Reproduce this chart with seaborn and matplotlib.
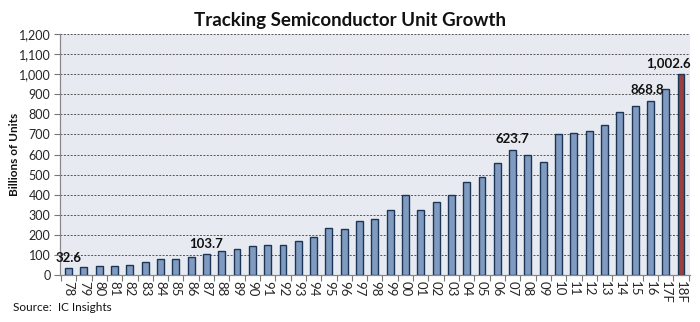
import matplotlib
matplotlib.use("Agg")
import matplotlib.pyplot as plt
import seaborn as sns
from matplotlib.ticker import FuncFormatter, MultipleLocator, FixedLocator

years = ["78", "79", "80", "81", "82", "83", "84", "85", "86", "87", "88", "89",
         "90", "91", "92", "93", "94", "95", "96", "97", "98", "99", "00", "01",
         "02", "03", "04", "05", "06", "07", "08", "09", "10", "11", "12", "13",
         "14", "15", "16", "17F", "18F"]
units = [32.6, 38, 45, 45, 52, 63, 80, 78, 92, 103.7, 121, 131,
         142, 148, 148, 167, 187, 236, 230, 271, 277, 322, 400, 322,
         362, 400, 464, 489, 559, 623.7, 597, 564, 700, 709, 715, 747,
         811, 841, 868.8, 928, 1002.6]
labelled = {"78": "32.6", "87": "103.7", "07": "623.7", "16": "868.8", "18F": "1,002.6"}
label_shift = {"78": 0.0, "87": 0.0, "07": 0.0, "16": -0.2, "18F": -0.85}

blue = "#7699CB"
red = "#A8322F"
colors = [red if y == "18F" else blue for y in years]

sns.set_theme(style="white")
plt.rcParams["font.family"] = ["Lato", "DejaVu Sans"]

fig = plt.figure(figsize=(7.0, 3.22), dpi=100)
ax = fig.add_axes([0.086, 0.146, 0.9, 0.748])
ax.set_facecolor("#E7EBF1")

sns.barplot(x=years, y=units, hue=years, palette=colors, legend=False,
            width=0.45, edgecolor="#1B3556", linewidth=1.0, ax=ax, zorder=3)

ax.set_ylim(0, 1200)
ax.set_xlim(-0.55, 40.6)
ax.yaxis.set_major_locator(MultipleLocator(100))
ax.yaxis.set_major_formatter(FuncFormatter(lambda v, p: f"{int(v):,}"))
ax.grid(axis="y", color="#555555", linestyle=(0, (2, 1.5)), linewidth=0.7, zorder=1)
ax.grid(axis="x", visible=False)

ax.set_xticks(range(len(years)))
ax.set_xticklabels(years, rotation=270, ha="center", va="top", fontsize=9.5)
ax.tick_params(axis="x", which="major", pad=4, length=0)
ax.tick_params(axis="y", labelsize=9, length=4, width=0.8, color="#777777",
               direction="out", left=True, pad=3)
ax.xaxis.set_minor_locator(FixedLocator([i + 0.5 for i in range(-1, len(years))]))
ax.tick_params(axis="x", which="minor", length=4, width=0.8, color="#777777", bottom=True)

for side in ("top", "right"):
    ax.spines[side].set_visible(False)
for side in ("left", "bottom"):
    ax.spines[side].set_color("#888888")
    ax.spines[side].set_linewidth(0.9)

ax.set_xlabel("")
ax.set_ylabel("")
fig.text(0.021, 0.52, "Billions of Units", rotation=90, ha="center", va="center",
         fontsize=8.5, fontweight="bold", color="#111111")

for i, (yr, val) in enumerate(zip(years, units)):
    if yr in labelled:
        ax.text(i + label_shift[yr], val + 22, labelled[yr], ha="center", va="bottom",
                fontsize=9.5, fontweight="bold", color="#111111", zorder=4)

fig.text(0.5, 0.935, "Tracking Semiconductor Unit Growth", ha="center", va="center",
         fontsize=13.5, fontweight="bold", color="#111111")
fig.text(0.018, 0.045, "Source:  IC Insights", ha="left", va="center",
         fontsize=8.5, color="#111111")

fig.savefig("out.png", dpi=100)
